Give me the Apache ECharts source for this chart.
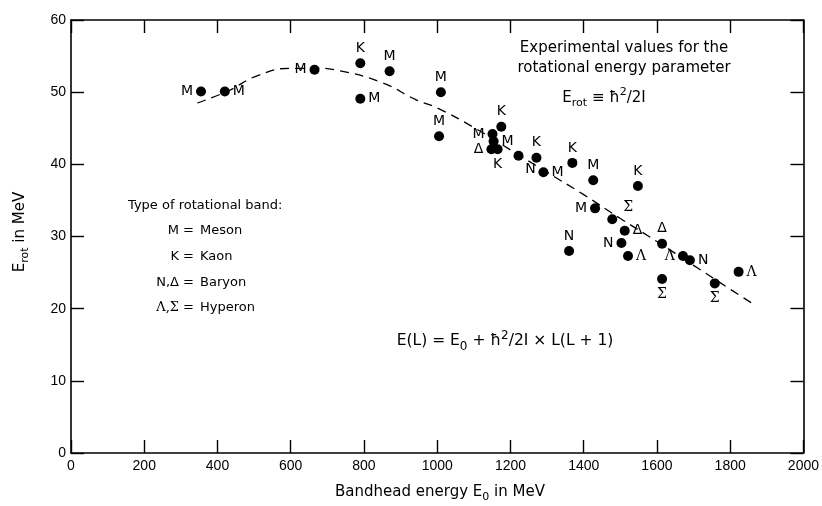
<!DOCTYPE html>
<html><head><meta charset="utf-8">
<script src="https://cdn.jsdelivr.net/npm/echarts/dist/echarts.min.js"></script>
<style>html,body{margin:0;padding:0;background:#fff}#c{width:822px;height:506px}</style>
</head><body><div id="c"></div>
<script>
// ---- data ----
const energy = [355, 420, 665, 790, 870, 790, 1010, 1005, 1151, 1175, 1154, 1148, 1165, 1222, 1271, 1290, 1369, 1426, 1548, 1431, 1478, 1512, 1503, 1360, 1521, 1614, 1614, 1671, 1690, 1758, 1823];
const erot   = [50.1, 50.1, 53.1, 54.0, 52.9, 49.1, 50.0, 43.9, 44.2, 45.2, 43.2, 42.1, 42.1, 41.2, 40.9, 38.9, 40.2, 37.8, 37.0, 33.9, 32.4, 30.8, 29.1, 28.0, 27.3, 29.0, 24.1, 27.3, 26.7, 23.5, 25.1];
const band   = ['M','M','M','K','M','M','M','M','M','K','M','Δ','K','N','K','M','K','M','K','M','Σ','Δ','N','N','Λ','Δ','Σ','Λ','N','Σ','Λ'];
const labelPlace = ['left','right','left','top','top','right','top','top','left','top','right','left','bottom','bottomright','top','right','top','top','top','left','topright','right','left','top','right','top','bottom','left','right','bottom','right'];
const curveEnergy = [345, 430, 510, 600, 670, 730, 850, 940, 1000, 1100, 1200, 1300, 1400, 1500, 1600, 1700, 1800, 1861];
const curveErot   = [48.5, 50.2, 52.3, 53.3, 53.3, 53.0, 51.3, 49.0, 47.8, 45.1, 42.0, 38.9, 35.8, 32.5, 29.3, 26.0, 22.7, 20.7];
const xTickLabels = ['0','200','400','600','800','1000','1200','1400','1600','1800','2000'];
const yTickLabels = ['0','10','20','30','40','50','60'];

// ---- chart ----
const SANS = 'DejaVu Sans';
const chart = echarts.init(document.getElementById('c'), null, {renderer: 'canvas'});
const axisCommon = {
  axisLine: {show: true, onZero: false, lineStyle: {color: '#000', width: 1.6}},
  axisTick: {show: true, inside: true, length: 13, lineStyle: {color: '#000', width: 1.4}},
  splitLine: {show: false}
};
function placeLabel(p) {
  const map = {
    left: {position: 'left', distance: 3},
    right: {position: 'right', distance: 3},
    top: {position: 'top', distance: 3},
    bottom: {position: 'bottom', distance: 3},
    bottomright: {position: 'bottom', distance: 2, offset: [12, 0]},
    topright: {position: 'top', distance: 0, offset: [16, 0]}
  };
  return map[p];
}
const pts = energy.map((e, i) => {
  const serif = band[i] === 'Λ' || band[i] === 'Σ';
  return {
    value: [e, erot[i]],
    label: Object.assign({
      show: true,
      formatter: band[i],
      color: '#000',
      fontFamily: serif ? 'DejaVu Serif' : SANS,
      fontSize: 14
    }, placeLabel(labelPlace[i]))
  };
});
function mkRich(fs) {
  const s = Math.round(fs * 0.75);
  const sh = Math.round(fs * 0.7);
  return {
    n: {fontFamily: SANS, fontSize: fs, color: '#000'},
    sub: {fontFamily: SANS, fontSize: s, color: '#000', padding: [sh, 0, 0, 0]},
    sup: {fontFamily: SANS, fontSize: s, color: '#000', padding: [0, 0, sh, 0]},
    g: {fontFamily: 'DejaVu Serif', fontSize: fs, color: '#000'}
  };
}
function txt(x, y, text, fs, opts) {
  return {
    type: 'text', x: x, y: y, silent: true,
    style: Object.assign({text: text, fill: '#000', font: fs + 'px ' + SANS, textAlign: 'center', textVerticalAlign: 'middle', rich: mkRich(fs)}, opts || {})
  };
}
const option = {
  animation: false,
  backgroundColor: '#fff',
  grid: {left: 71, right: 16, top: 20, bottom: 53},
  xAxis: [
    Object.assign({type: 'value', min: 0, max: 2000, interval: 200, position: 'bottom',
      axisLabel: {color: '#000', fontFamily: 'Liberation Sans', fontSize: 14, margin: 6,
        formatter: v => xTickLabels[Math.round(v / 200)]}}, axisCommon),
    Object.assign({type: 'value', min: 0, max: 2000, interval: 200, position: 'top',
      axisLabel: {show: false}}, axisCommon)
  ],
  yAxis: [
    Object.assign({type: 'value', min: 0, max: 60, interval: 10, position: 'left',
      axisLabel: {color: '#000', fontFamily: 'Liberation Sans', fontSize: 14, margin: 5,
        formatter: v => yTickLabels[Math.round(v / 10)]}}, axisCommon),
    Object.assign({type: 'value', min: 0, max: 60, interval: 10, position: 'right',
      axisLabel: {show: false}}, axisCommon)
  ],
  series: [
    {
      type: 'line', xAxisIndex: 0, yAxisIndex: 0, smooth: 0.5, showSymbol: false, silent: true,
      lineStyle: {color: '#000', width: 1.3, type: [9, 6]},
      data: curveEnergy.map((e, i) => [e, curveErot[i]]),
      z: 2
    },
    {
      type: 'scatter', xAxisIndex: 0, yAxisIndex: 0, symbol: 'circle', symbolSize: 10,
      itemStyle: {color: '#000', opacity: 1},
      data: pts, z: 3
    }
  ],
  graphic: [
    txt(624, 48, 'Experimental values for the', 15),
    txt(624, 68, 'rotational energy parameter', 15),
    txt(604, 98, '{n|E}{sub|rot}{n| ≡ ħ}{sup|2}{n|/2I}', 15),
    txt(128, 206, 'Type of rotational band:', 13, {textAlign: 'left'}),
    txt(194, 231, 'M =', 13, {textAlign: 'right'}),
    txt(200, 231, 'Meson', 13, {textAlign: 'left'}),
    txt(194, 257, 'K =', 13, {textAlign: 'right'}),
    txt(200, 257, 'Kaon', 13, {textAlign: 'left'}),
    txt(194, 283, 'N,Δ =', 13, {textAlign: 'right'}),
    txt(200, 283, 'Baryon', 13, {textAlign: 'left'}),
    txt(194, 308, '{g|Λ,Σ}{n| =}', 13, {textAlign: 'right'}),
    txt(200, 308, 'Hyperon', 13, {textAlign: 'left'}),
    txt(505, 341, '{n|E(L) = E}{sub|0}{n| + ħ}{sup|2}{n|/2I × L(L + 1)}', 15.5),
    txt(440, 492, '{n|Bandhead energy E}{sub|0}{n| in MeV}', 15),
    Object.assign(txt(20, 232, '{n|E}{sub|rot}{n| in MeV}', 15), {rotation: Math.PI / 2})
  ]
};
chart.setOption(option);
</script>
</body></html>
